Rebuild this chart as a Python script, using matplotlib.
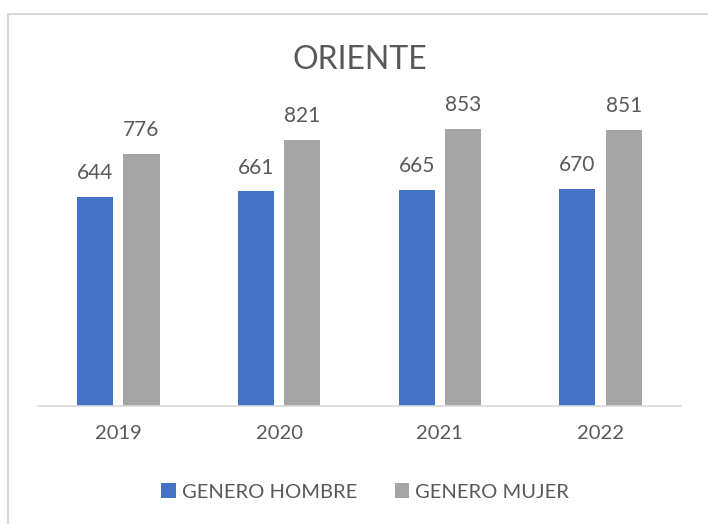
import numpy as np
import matplotlib.pyplot as plt
from matplotlib.patches import Rectangle

plt.rcParams['font.family'] = ['Lato', 'DejaVu Sans']

years = ["2019", "2020", "2021", "2022"]
hombre = [644, 661, 665, 670]
mujer = [776, 821, 853, 851]

blue = "#4472C4"
gray = "#A5A5A5"
text_color = "#595959"

fig = plt.figure(figsize=(7.08, 5.24), dpi=100)
ax = fig.add_axes([0.0537, 0.2252, 0.908, 0.6193])

x = np.arange(len(years))
w = 0.225
off = 0.144
b1 = ax.bar(x - off, hombre, w, color=blue, label="GENERO HOMBRE")
b2 = ax.bar(x + off, mujer, w, color=gray, label="GENERO MUJER")

for bars, vals in [(b1, hombre), (b2, mujer)]:
    for r, v in zip(bars, vals):
        ax.annotate(str(v), (r.get_x() + r.get_width() / 2, r.get_height()),
                    xytext=(0, 10), textcoords="offset points",
                    ha="center", va="bottom", fontsize=15, color=text_color)

ax.set_xlim(-0.5, len(years) - 0.5)
ax.set_ylim(0, 1000)
ax.set_xticks(x)
ax.set_xticklabels(years, fontsize=14.5, color=text_color)
ax.tick_params(axis="x", length=0, pad=14)
ax.set_yticks([])
for s in ["top", "right", "left"]:
    ax.spines[s].set_visible(False)
ax.spines["bottom"].set_color("#D9D9D9")
ax.spines["bottom"].set_linewidth(1.2)

fig.text(0.508, 0.885, "ORIENTE", ha="center", va="center",
         fontsize=23, color=text_color)

fig.legend(loc="center", bbox_to_anchor=(0.516, 0.061), ncol=2, frameon=False,
           fontsize=14.5, handlelength=0.7, handleheight=0.7,
           handletextpad=0.3, columnspacing=1.9, labelcolor=text_color)

# chart frame
fig.patches.append(Rectangle((0.0113, -0.1), 1.5, 1.0733, transform=fig.transFigure,
                             fill=False, edgecolor="#D9D9D9", linewidth=1.5,
                             clip_on=False))

fig.savefig("out.png", dpi=100)
